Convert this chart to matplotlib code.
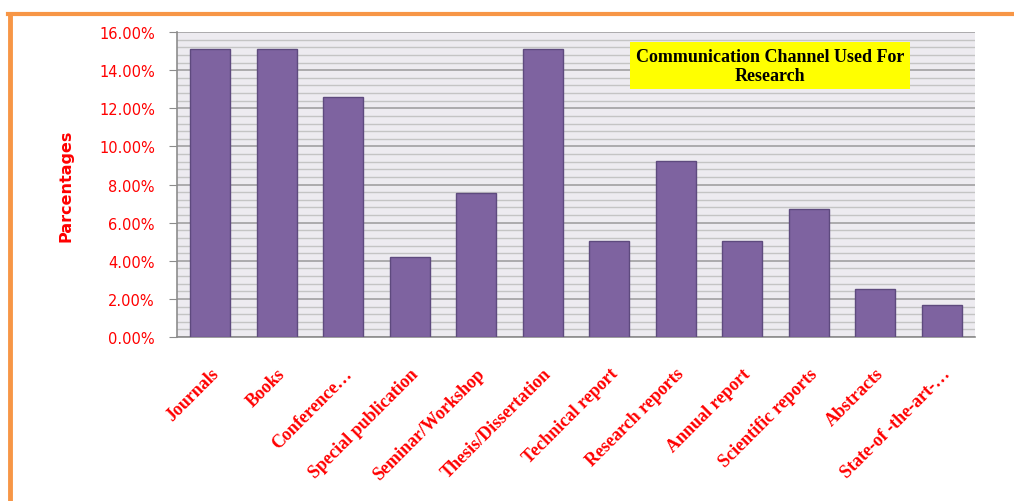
import matplotlib
matplotlib.use("Agg")
import matplotlib.pyplot as plt
from matplotlib.lines import Line2D
from matplotlib.ticker import MultipleLocator, PercentFormatter

channels = [
    "Journals", "Books", "Conference…", "Special publication",
    "Seminar/Workshop", "Thesis/Dissertation", "Technical report",
    "Research reports", "Annual report", "Scientific reports",
    "Abstracts", "State-of -the-art-…",
]
percent = [15.13, 15.13, 12.61, 4.20, 7.56, 15.13, 5.04, 9.24, 5.04, 6.72, 2.52, 1.68]

fig = plt.figure(figsize=(10.14, 5.02), dpi=100)
ax = fig.add_axes([0.1746, 0.3267, 0.9615 - 0.1746, 0.934 - 0.3267])

# orange frame (top and left only)
fig.add_artist(Line2D([0.008, 1.0], [1 - 15 / 502, 1 - 15 / 502], transform=fig.transFigure,
                      color="#F79646", lw=3))
fig.add_artist(Line2D([0.0095, 0.0095], [0.0, 1 - 15 / 502], transform=fig.transFigure,
                      color="#F79646", lw=3.5))

ax.set_facecolor("#EDEBF0")
x = range(len(channels))
ax.bar(x, percent, width=0.6, color="#7E63A0", edgecolor="#5E4A7E", linewidth=1, zorder=3)

ax.set_xlim(-0.5, len(channels) - 0.5)
ax.set_ylim(0, 16)
ax.yaxis.set_major_locator(MultipleLocator(2))
ax.yaxis.set_minor_locator(MultipleLocator(0.4))
ax.yaxis.set_major_formatter(PercentFormatter(decimals=2))
ax.grid(axis="y", which="major", color="#9A9A9A", lw=1.1, zorder=1)
ax.grid(axis="y", which="minor", color="#C4C4C4", lw=1.0, zorder=1)

for s in ["top", "right"]:
    ax.spines[s].set_visible(False)
for s in ["left", "bottom"]:
    ax.spines[s].set_color("#8C8C8C")
    ax.spines[s].set_linewidth(1.2)

ax.tick_params(axis="y", which="major", length=6, color="#8C8C8C", labelcolor="red",
               labelsize=10.5, pad=10)
ax.tick_params(axis="y", which="minor", length=0)
ax.tick_params(axis="x", length=0, pad=20)

ax.set_xticks(list(x))
ax.set_xticklabels(channels, rotation=45, ha="right", rotation_mode="anchor",
                   color="red", fontsize=13, fontweight="bold", family="Liberation Serif")

ax.set_ylabel("Parcentages", color="red", fontsize=11.5, fontweight="bold", labelpad=18)

ax.text(0.743, 0.89, "Communication Channel Used For\nResearch", transform=ax.transAxes,
        ha="center", va="center", fontsize=13, fontweight="bold", family="Liberation Serif",
        linespacing=1.15, zorder=5,
        bbox=dict(boxstyle="square,pad=0.3", facecolor="yellow", edgecolor="none"))

fig.savefig("out.png", dpi=100)
